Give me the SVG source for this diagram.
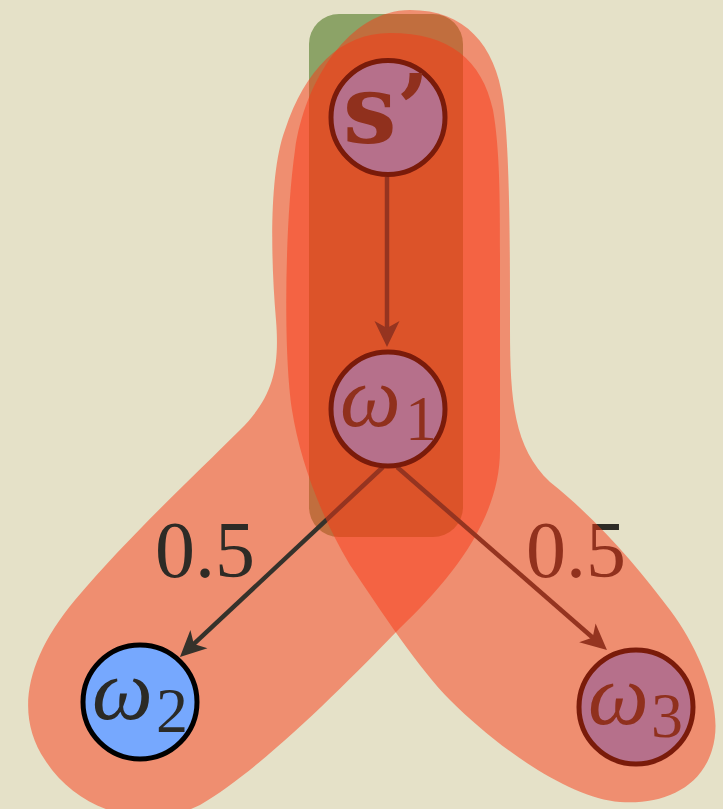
<svg xmlns="http://www.w3.org/2000/svg" width="723" height="809" viewBox="0 0 723 809">
<style>
.hyper{fill:#f93815;fill-opacity:0.49}
.edge{fill:none;stroke:#35322b;stroke-width:4.5}
.lbl{font-family:"Liberation Serif","Times New Roman",serif;font-size:80px;fill:#2d2b26}
.node circle{fill:#76a8fe;stroke:#000;stroke-width:5}
.w{font-family:"Liberation Serif","Times New Roman",serif;font-style:italic;font-size:86px;fill:#2b2a26}
.sub{font-family:"Liberation Serif","Times New Roman",serif;font-size:64px;fill:#2b2a26}
.s{font-family:"DejaVu Serif",serif;font-weight:bold;font-size:95px;fill:#2b2a26}
</style>
<defs>
<marker id="ah" markerUnits="userSpaceOnUse" viewBox="-10 -14 30 28" refX="0" refY="0" markerWidth="30" markerHeight="28" orient="auto">
<path d="M18,0 L-8,-12.5 L-1,0 L-8,12.5 Z" fill="#35322b"/>
</marker>
</defs>
<rect width="723" height="809" fill="#e5e1c8"/>
<rect id="group-box" x="309" y="14" width="154" height="523" rx="30" fill="#8ca367"/>
<path id="hyperedge-a" class="hyper" d="M390,33 C450,33 482,60 493,110 C500,150 500,200 500,260 L500,450 C500,520 450,580 400,628 C340,690 260,770 200,805 C150,830 80,815 45,760 C15,715 25,660 75,600 C130,535 195,475 240,430 C272,398 280,370 276,320 C270,250 270,170 285,130 C305,70 340,33 390,33 Z"/>
<g id="connectors">
<path class="edge" d="M387,177 L387,329" marker-end="url(#ah)"/>
<path class="edge" d="M383,467 L193.1,644.7" marker-end="url(#ah)"/>
<path class="edge" d="M397,467 L593.4,638.2" marker-end="url(#ah)"/>
<text class="lbl" x="155" y="577">0.5</text>
<text class="lbl" x="526" y="577">0.5</text>
</g>
<g id="node-s" class="node">
<circle cx="388" cy="117.5" r="57"/>
<text class="s" x="343" y="143">s’</text>
</g>
<g id="node-w1" class="node">
<circle cx="388" cy="409" r="57"/>
<text class="w" x="340" y="426">ω</text><text class="sub" x="405" y="440">1</text>
</g>
<g id="node-w2" class="node">
<circle cx="140" cy="702" r="57"/>
<text class="w" x="92" y="719">ω</text><text class="sub" x="156" y="732">2</text>
</g>
<g id="node-w3" class="node">
<circle cx="636" cy="707" r="57"/>
<text class="w" x="588" y="724">ω</text><text class="sub" x="651" y="737">3</text>
</g>
<path id="hyperedge-b" class="hyper" d="M410,10 C465,10 495,45 503,100 C510,150 510,250 510,330 C510,400 514,448 550,482 C600,522 640,570 670,610 C700,650 725,710 712,750 C700,790 660,805 620,802 C570,798 500,750 450,700 C420,670 380,610 350,565 C320,515 300,460 292,410 C283,350 285,220 295,150 C305,80 350,10 410,10 Z"/>
</svg>
